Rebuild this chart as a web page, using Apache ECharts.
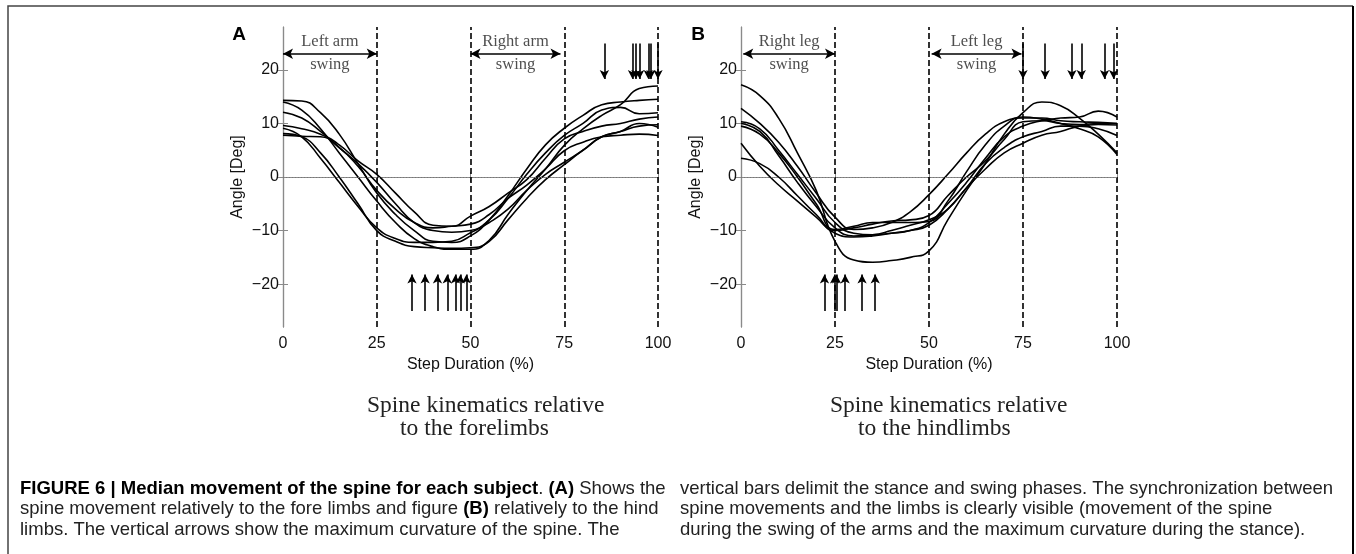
<!DOCTYPE html>
<html>
<head>
<meta charset="utf-8">
<title>Spine kinematics</title>
<script src="https://cdn.jsdelivr.net/npm/echarts@6/dist/echarts.min.js"></script>
<style>
  html, body { margin: 0; padding: 0; background: #fff; }
  #chart { width: 1356px; height: 554px; }
</style>
</head>
<body>
<div id="chart"></div>
<script>
// step duration samples (%)
const steps = [0, 5, 10, 15, 20, 25, 30, 35, 40, 45, 50, 55, 60, 65, 70, 75, 80, 85, 90, 95, 100];

// A: spine angle relative to the forelimbs, one median curve per subject (deg)
const foreS1 = [14.3, 14.2, 12, 8, 2.5, -3, -7, -10, -12, -12.2, -11, -8, -3.5, 1.5, 6, 9.1, 11.5, 13.5, 14, 14.3, 14.5];
const foreS2 = [14, 12.5, 9, 4.5, 0, -4.5, -8.5, -11.5, -13, -13.5, -13.5, -11.8, -7, -2.5, 1.5, 5.9, 9, 11.5, 13.5, 16.5, 17];
const foreS3 = [12.1, 11, 8.5, 5.5, 2.5, -1, -5, -8.5, -10, -10.3, -10, -8, -4, 0.5, 4.5, 7.75, 10, 12.5, 13, 11.8, 12];
const foreS4 = [9.6, 9, 8, 6, 3, 0.5, -3, -6.5, -9, -9.2, -7.3, -5.5, -3, -0.5, 3.5, 7.1, 8.5, 9.5, 10, 10.8, 11.2];
const foreS5 = [9.1, 7.5, 3.5, -1, -5.5, -9.5, -11.5, -12.2, -12.2, -12, -10.4, -8.5, -6, -2.5, 0.5, 2.75, 5, 7.5, 8.5, 9.5, 9.75];
const foreS6 = [8.1, 7.5, 4.5, 0, -5, -10, -12, -13, -13.2, -13.3, -13.2, -12, -8, -4, -0.5, 2.3, 5, 7.5, 8.5, 10, 9.3];
const foreS7 = [7.8, 7.6, 7.5, 5.5, 2, -2.5, -6, -8.5, -9.5, -9.2, -8.8, -7, -4, -1.5, 1.5, 4.9, 6.5, 7.5, 7.8, 8, 7.75];

// B: spine angle relative to the hindlimbs (deg)
const hindS1 = [17.2, 15.2, 11, 4.5, -2.5, -12, -15.5, -15.9, -15.6, -15, -13.8, -8, -2.5, 2.5, 8, 12, 14, 13.3, 11, 8, 4.5];
const hindS2 = [12.8, 10, 6.5, 2, -3, -7.5, -9.8, -9.5, -8.5, -6.5, -3.3, 0.5, 4.5, 8, 10.3, 11, 11, 10.5, 10.3, 10.2, 10];
const hindS3 = [10.3, 9, 5, 0.5, -4, -8.5, -10.5, -10.8, -10.5, -10, -8.5, -5, -1, 3.5, 7.5, 9.5, 10.5, 11, 11.2, 12.3, 11.2];
const hindS4 = [10, 8.5, 4, -1, -5.5, -9.5, -11, -10.8, -10, -9, -8, -6, -2, 1.5, 4.5, 6.3, 7.8, 8.5, 9.5, 9.8, 9.7];
const hindS5 = [9.5, 8, 4.5, 0, -5, -9.8, -9.2, -8.5, -8.5, -8.5, -8.3, -4.5, 1, 6, 9.5, 11.2, 10.8, 10, 9, 7.5, 4.2];
const hindS6 = [6.3, 2, -1.5, -4.5, -7.5, -10.5, -11.2, -11, -10.5, -10, -9, -6, -2, 2.5, 5.5, 7.5, 8.5, 9.5, 9.5, 9, 7.75];
const hindS7 = [3.5, 2.5, 0, -3.5, -7, -10, -9.5, -8.8, -8.2, -8, -7.2, -3.5, 0, 3, 7, 10.3, 10.5, 10, 9.8, 10, 10];

const foreCurves = [foreS1, foreS2, foreS3, foreS4, foreS5, foreS6, foreS7];
const hindCurves = [hindS1, hindS2, hindS3, hindS4, hindS5, hindS6, hindS7];

// axes
const xTicks = [0, 25, 50, 75, 100];
const yTicks = [-20, -10, 0, 10, 20];
const phaseBars = [25, 50, 75, 100];

// maximum curvature (% of step): up arrows at the bottom, down arrows at the top
const foreMaxUp = [34.4, 37.9, 41.2, 43.8, 46, 47.3, 48.9];
const foreMaxDown = [85.7, 93.2, 94.1, 95.1, 97.4, 98.1, 100];
const hindMaxUp = [22.2, 24.9, 25.4, 27.7, 32.2, 35.7];
const hindMaxDown = [75, 80.9, 88, 90.5, 96.7, 99.1];

// swing phases: [from, to, label]
const foreSwing = [[0, 25, 'Left arm'], [50, 74, 'Right arm']];
const hindSwing = [[0.6, 25, 'Right leg'], [50.7, 74.6, 'Left leg']];

const SANS = "'Liberation Sans', Arial, Helvetica, sans-serif";
const SERIF = "'Liberation Serif', 'Times New Roman', serif";
const AXIS_GREY = '#8a8a8a';

const grids = [
  { left: 283, top: 27, width: 375, height: 300 },
  { left: 741, top: 27, width: 376, height: 300 }
];

const minus = (v) => String(v).replace('-', '\u2212');

let xAxes = [];
let yAxes = [];
let series = [];

const buildPanel = (gi, curves, swing, up, down) => {
  xAxes.push({
    gridIndex: gi, type: 'value', min: 0, max: 100, interval: 25,
    axisLine: { lineStyle: { color: AXIS_GREY, width: 1.2 } },
    axisTick: { inside: true, length: 5, lineStyle: { color: AXIS_GREY } },
    axisLabel: { color: '#111', fontSize: 16, fontFamily: SANS, margin: 9, showMinLabel: true, showMaxLabel: true },
    splitLine: { show: false },
    name: 'Step Duration (%)', nameLocation: 'middle', nameGap: 27,
    nameTextStyle: { color: '#111', fontSize: 16, fontFamily: SANS }
  });
  xAxes.push({
    gridIndex: gi, type: 'value', min: 0, max: 100, interval: 25, position: 'top',
    axisLine: { lineStyle: { color: AXIS_GREY, width: 1.2 } },
    axisTick: { inside: true, length: 5, lineStyle: { color: AXIS_GREY } },
    axisLabel: { show: false }, splitLine: { show: false }
  });
  yAxes.push({
    gridIndex: gi, type: 'value', min: -28, max: 28,
    axisLine: { show: true, lineStyle: { color: AXIS_GREY, width: 1.2 } },
    axisTick: { show: true, inside: true, length: 5, customValues: yTicks, lineStyle: { color: AXIS_GREY } },
    axisLabel: { customValues: yTicks, formatter: minus, color: '#111', fontSize: 16, fontFamily: SANS, margin: 4 },
    splitLine: { show: false },
    name: 'Angle [Deg]', nameLocation: 'middle', nameGap: 37,
    nameTextStyle: { color: '#111', fontSize: 16, fontFamily: SANS }
  });
  yAxes.push({
    gridIndex: gi, type: 'value', min: -28, max: 28, position: 'right',
    axisLine: { show: true, lineStyle: { color: AXIS_GREY, width: 1.2 } },
    axisTick: { show: true, inside: true, length: 5, customValues: yTicks, lineStyle: { color: AXIS_GREY } },
    axisLabel: { show: false }, splitLine: { show: false }
  });

  const xi = gi * 2, yi = gi * 2;

  curves.forEach((c) => {
    series.push({
      type: 'line', xAxisIndex: xi, yAxisIndex: yi, silent: true,
      data: steps.map((s, k) => [s, c[k]]),
      smooth: true, showSymbol: false, symbol: 'none',
      lineStyle: { color: '#000', width: 1.6 }, z: 3
    });
  });

  // bars, zero line, swing spans and arrows
  let marks = [];
  phaseBars.forEach((x) => marks.push({ xAxis: x, lineStyle: { type: [6, 3], color: '#000', width: 1.6 } }));
  marks.push({ yAxis: 0, lineStyle: { type: [1, 2], color: '#777', width: 1 } });
  swing.forEach((s) => {
    marks.push([
      { coord: [s[0], 23], symbol: 'arrow', symbolSize: [8, 10] },
      { coord: [s[1], 23], symbol: 'arrow', symbolSize: [8, 10], lineStyle: { type: 'solid', color: '#000', width: 1.6 } }
    ]);
  });
  down.forEach((x) => {
    marks.push([
      { coord: [x, 24.9], symbol: 'none' },
      { coord: [x, 18.3], symbol: 'arrow', symbolSize: [7, 9], lineStyle: { type: 'solid', color: '#000', width: 1.6 } }
    ]);
  });
  up.forEach((x) => {
    marks.push([
      { coord: [x, -25], symbol: 'none' },
      { coord: [x, -18.2], symbol: 'arrow', symbolSize: [7, 9], lineStyle: { type: 'solid', color: '#000', width: 1.6 } }
    ]);
  });

  let words = [];
  swing.forEach((s) => {
    words.push([(s[0] + s[1]) / 2, 25.2, s[2]]);
    words.push([(s[0] + s[1]) / 2, 20.9, 'swing']);
  });

  series.push({
    type: 'scatter', xAxisIndex: xi, yAxisIndex: yi, silent: true,
    data: words, symbolSize: 1, itemStyle: { color: 'rgba(0,0,0,0)' },
    label: {
      show: true, position: 'inside', formatter: (p) => p.value[2],
      color: '#222', fontSize: 16.5, fontFamily: SERIF
    },
    markLine: {
      silent: true, animation: false, symbol: 'none', precision: 2,
      label: { show: false },
      lineStyle: { type: 'solid', color: '#000', width: 1.6 },
      data: marks
    },
    z: 4
  });
};

buildPanel(0, foreCurves, foreSwing, foreMaxUp, foreMaxDown);
buildPanel(1, hindCurves, hindSwing, hindMaxUp, hindMaxDown);

const captionLeft =
  '{b|FIGURE 6 | Median movement of the spine for each subject}. {b|(A)} Shows the\n' +
  'spine movement relatively to the fore limbs and figure {b|(B)} relatively to the hind\n' +
  'limbs. The vertical arrows show the maximum curvature of the spine. The';
const captionRight =
  'vertical bars delimit the stance and swing phases. The synchronization between\n' +
  'spine movements and the limbs is clearly visible (movement of the spine\n' +
  'during the swing of the arms and the maximum curvature during the stance).';

const capStyle = {
  fill: '#222', fontSize: 18.5, fontFamily: SANS, lineHeight: 20.5,
  rich: { b: { fontWeight: 'bold', fontSize: 18.5, fontFamily: SANS, lineHeight: 20.5, fill: '#000' } }
};

const option = {
  animation: false,
  backgroundColor: '#fff',
  grid: grids,
  xAxis: xAxes,
  yAxis: yAxes,
  series: series,
  graphic: [
    { type: 'polyline', silent: true, shape: { points: [[8, 554], [8, 6], [1353, 6]] }, style: { stroke: '#444', lineWidth: 1.5, fill: null } },
    { type: 'line', silent: true, shape: { x1: 1353, y1: 6, x2: 1353, y2: 554 }, style: { stroke: '#000', lineWidth: 2 } },
    { type: 'text', x: 239, y: 35, style: { text: 'A', fontSize: 19, fontWeight: 'bold', fontFamily: SANS, fill: '#000', align: 'center', verticalAlign: 'middle' } },
    { type: 'text', x: 698, y: 35, style: { text: 'B', fontSize: 19, fontWeight: 'bold', fontFamily: SANS, fill: '#000', align: 'center', verticalAlign: 'middle' } },
    { type: 'text', x: 367, y: 406, style: { text: 'Spine kinematics relative', fontSize: 23.5, fontFamily: SERIF, fill: '#222', verticalAlign: 'middle' } },
    { type: 'text', x: 400, y: 429, style: { text: 'to the forelimbs', fontSize: 23.5, fontFamily: SERIF, fill: '#222', verticalAlign: 'middle' } },
    { type: 'text', x: 830, y: 406, style: { text: 'Spine kinematics relative', fontSize: 23.5, fontFamily: SERIF, fill: '#222', verticalAlign: 'middle' } },
    { type: 'text', x: 858, y: 429, style: { text: 'to the hindlimbs', fontSize: 23.5, fontFamily: SERIF, fill: '#222', verticalAlign: 'middle' } },
    { type: 'text', x: 20, y: 478.5, style: Object.assign({ text: captionLeft }, capStyle) },
    { type: 'text', x: 680, y: 478.5, style: Object.assign({ text: captionRight }, capStyle) }
  ]
};

const chart = echarts.init(document.getElementById('chart'));
chart.setOption(option);
window.addEventListener('resize', () => chart.resize());
</script>
</body>
</html>
